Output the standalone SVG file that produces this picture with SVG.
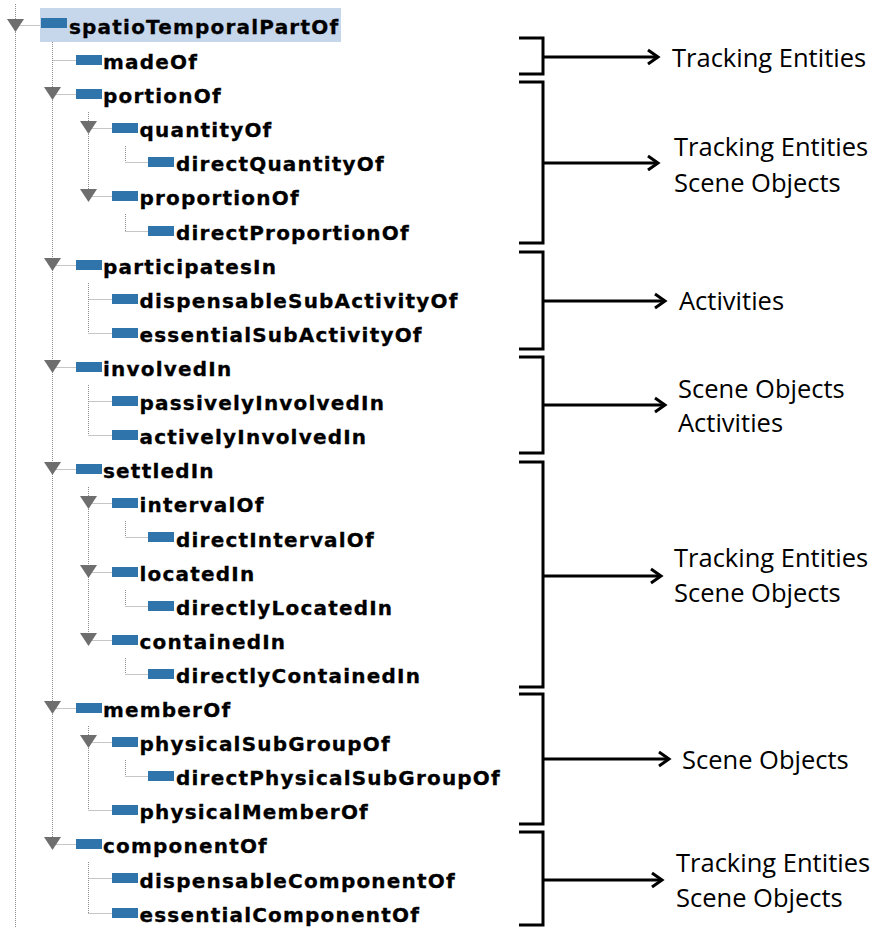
<svg xmlns="http://www.w3.org/2000/svg" width="871" height="927" viewBox="0 0 871 927">
<style>
.t{font-family:"DejaVu Sans","Liberation Sans",sans-serif;font-weight:bold;font-size:20px;letter-spacing:1.2px;fill:#000;stroke:#000;stroke-width:0.3px}
.ic{fill:#2f74ab}
.tri{fill:#6e6e6e}
.dot{stroke:#8c8c8c;stroke-width:1;stroke-dasharray:1 1;fill:none}
.br{fill:none;stroke:#000;stroke-width:3}
.ar{fill:none;stroke:#000;stroke-width:3}
.lb{font-family:"Open Sans","Liberation Sans",sans-serif;font-size:25.5px;fill:#000}
</style>
<defs>
<marker id="ah" markerUnits="userSpaceOnUse" markerWidth="16" markerHeight="20" viewBox="-13 -10 16 20" refX="0" refY="0" orient="auto">
<path d="M-10,-7 L0,0 L-10,7" fill="none" stroke="#000" stroke-width="3"/>
</marker>
</defs>
<g id="connectors">
<line class="dot" x1="15.5" y1="4" x2="15.5" y2="927"/>
<line class="dot" x1="52.5" y1="42" x2="52.5" y2="844"/>
<line class="dot" x1="88.5" y1="112" x2="88.5" y2="196"/>
<line class="dot" x1="125.5" y1="146" x2="125.5" y2="162"/>
<line class="dot" x1="125.5" y1="214" x2="125.5" y2="231"/>
<line class="dot" x1="88.5" y1="283" x2="88.5" y2="333"/>
<line class="dot" x1="88.5" y1="385" x2="88.5" y2="435"/>
<line class="dot" x1="88.5" y1="487" x2="88.5" y2="640"/>
<line class="dot" x1="125.5" y1="521" x2="125.5" y2="537"/>
<line class="dot" x1="125.5" y1="590" x2="125.5" y2="606"/>
<line class="dot" x1="125.5" y1="658" x2="125.5" y2="674"/>
<line class="dot" x1="88.5" y1="726" x2="88.5" y2="810"/>
<line class="dot" x1="125.5" y1="760" x2="125.5" y2="776"/>
<line class="dot" x1="88.5" y1="862" x2="88.5" y2="913"/>
<path class="dot" d="M15.5,25.5H40 M52.5,60.5H76 M52.5,94.5H76 M88.5,128.5H112 M125.5,162.5H148 M88.5,196.5H112 M125.5,231.5H148 M52.5,265.5H76 M88.5,299.5H112 M88.5,333.5H112 M52.5,367.5H76 M88.5,401.5H112 M88.5,435.5H112 M52.5,469.5H76 M88.5,503.5H112 M125.5,537.5H148 M88.5,572.5H112 M125.5,606.5H148 M88.5,640.5H112 M125.5,674.5H148 M52.5,708.5H76 M88.5,742.5H112 M125.5,776.5H148 M88.5,810.5H112 M52.5,844.5H76 M88.5,878.5H112 M88.5,913.5H112"/>
<path class="br" d="M519,38H543V74H519"/>
<path class="br" d="M519,82H543V243H519"/>
<path class="br" d="M519,252H543V349H519"/>
<path class="br" d="M519,357H543V453H519"/>
<path class="br" d="M519,462H543V687H519"/>
<path class="br" d="M519,694H543V824H519"/>
<path class="br" d="M519,832H543V925H519"/>
<line class="ar" x1="543" y1="57" x2="658" y2="57" marker-end="url(#ah)"/>
<line class="ar" x1="543" y1="163" x2="658" y2="163" marker-end="url(#ah)"/>
<line class="ar" x1="543" y1="301" x2="665" y2="301" marker-end="url(#ah)"/>
<line class="ar" x1="543" y1="405" x2="665" y2="405" marker-end="url(#ah)"/>
<line class="ar" x1="543" y1="576" x2="661" y2="576" marker-end="url(#ah)"/>
<line class="ar" x1="543" y1="759" x2="669" y2="759" marker-end="url(#ah)"/>
<line class="ar" x1="543" y1="880" x2="662" y2="880" marker-end="url(#ah)"/>
</g>
<g id="n-spatioTemporalPartOf"><rect x="40" y="8" width="301" height="34" fill="#c6d6eb"/><polygon class="tri" points="7,19 24,19 15.5,32"/><rect class="ic" x="41" y="18" width="26" height="10"/><text class="t" x="69" y="34">spatioTemporalPartOf</text></g>
<g id="n-madeOf"><rect class="ic" x="76" y="55" width="26" height="10"/><text class="t" x="103" y="69">madeOf</text></g>
<g id="n-portionOf"><polygon class="tri" points="44,87 61,87 52.5,100"/><rect class="ic" x="76" y="89" width="26" height="10"/><text class="t" x="103" y="103">portionOf</text></g>
<g id="n-quantityOf"><polygon class="tri" points="80,121 97,121 88.5,134"/><rect class="ic" x="112" y="123" width="26" height="10"/><text class="t" x="139.5" y="137">quantityOf</text></g>
<g id="n-directQuantityOf"><rect class="ic" x="148" y="157" width="26" height="10"/><text class="t" x="176" y="171">directQuantityOf</text></g>
<g id="n-proportionOf"><polygon class="tri" points="80,189 97,189 88.5,202"/><rect class="ic" x="112" y="191" width="26" height="10"/><text class="t" x="139.5" y="205">proportionOf</text></g>
<g id="n-directProportionOf"><rect class="ic" x="148" y="226" width="26" height="10"/><text class="t" x="176" y="240">directProportionOf</text></g>
<g id="n-participatesIn"><polygon class="tri" points="44,258 61,258 52.5,271"/><rect class="ic" x="76" y="260" width="26" height="10"/><text class="t" x="103" y="274">participatesIn</text></g>
<g id="n-dispensableSubActivityOf"><rect class="ic" x="112" y="294" width="26" height="10"/><text class="t" x="139.5" y="308">dispensableSubActivityOf</text></g>
<g id="n-essentialSubActivityOf"><rect class="ic" x="112" y="328" width="26" height="10"/><text class="t" x="139.5" y="342">essentialSubActivityOf</text></g>
<g id="n-involvedIn"><polygon class="tri" points="44,360 61,360 52.5,373"/><rect class="ic" x="76" y="362" width="26" height="10"/><text class="t" x="103" y="376">involvedIn</text></g>
<g id="n-passivelyInvolvedIn"><rect class="ic" x="112" y="396" width="26" height="10"/><text class="t" x="139.5" y="410">passivelyInvolvedIn</text></g>
<g id="n-activelyInvolvedIn"><rect class="ic" x="112" y="430" width="26" height="10"/><text class="t" x="139.5" y="444">activelyInvolvedIn</text></g>
<g id="n-settledIn"><polygon class="tri" points="44,462 61,462 52.5,475"/><rect class="ic" x="76" y="464" width="26" height="10"/><text class="t" x="103" y="478">settledIn</text></g>
<g id="n-intervalOf"><polygon class="tri" points="80,496 97,496 88.5,509"/><rect class="ic" x="112" y="498" width="26" height="10"/><text class="t" x="139.5" y="512">intervalOf</text></g>
<g id="n-directIntervalOf"><rect class="ic" x="148" y="532" width="26" height="10"/><text class="t" x="176" y="546.5">directIntervalOf</text></g>
<g id="n-locatedIn"><polygon class="tri" points="80,565 97,565 88.5,578"/><rect class="ic" x="112" y="567" width="26" height="10"/><text class="t" x="139.5" y="581">locatedIn</text></g>
<g id="n-directlyLocatedIn"><rect class="ic" x="148" y="601" width="26" height="10"/><text class="t" x="176" y="615">directlyLocatedIn</text></g>
<g id="n-containedIn"><polygon class="tri" points="80,633 97,633 88.5,646"/><rect class="ic" x="112" y="635" width="26" height="10"/><text class="t" x="139.5" y="649">containedIn</text></g>
<g id="n-directlyContainedIn"><rect class="ic" x="148" y="669" width="26" height="10"/><text class="t" x="176" y="683">directlyContainedIn</text></g>
<g id="n-memberOf"><polygon class="tri" points="44,701 61,701 52.5,714"/><rect class="ic" x="76" y="703" width="26" height="10"/><text class="t" x="103" y="717">memberOf</text></g>
<g id="n-physicalSubGroupOf"><polygon class="tri" points="80,735 97,735 88.5,748"/><rect class="ic" x="112" y="737" width="26" height="10"/><text class="t" x="139.5" y="751">physicalSubGroupOf</text></g>
<g id="n-directPhysicalSubGroupOf"><rect class="ic" x="148" y="771" width="26" height="10"/><text class="t" x="176" y="785">directPhysicalSubGroupOf</text></g>
<g id="n-physicalMemberOf"><rect class="ic" x="112" y="805" width="26" height="10"/><text class="t" x="139.5" y="819">physicalMemberOf</text></g>
<g id="n-componentOf"><polygon class="tri" points="44,837 61,837 52.5,850"/><rect class="ic" x="76" y="839" width="26" height="10"/><text class="t" x="103" y="853">componentOf</text></g>
<g id="n-dispensableComponentOf"><rect class="ic" x="112" y="873" width="26" height="10"/><text class="t" x="139.5" y="887.5">dispensableComponentOf</text></g>
<g id="n-essentialComponentOf"><rect class="ic" x="112" y="908" width="26" height="10"/><text class="t" x="139.5" y="921.5">essentialComponentOf</text></g>
<g id="label-1"><text class="lb" x="672" y="67">Tracking Entities</text></g>
<g id="label-2"><text class="lb" x="674" y="156">Tracking Entities</text><text class="lb" x="674" y="192">Scene Objects</text></g>
<g id="label-3"><text class="lb" x="679" y="310">Activities</text></g>
<g id="label-4"><text class="lb" x="678" y="398">Scene Objects</text><text class="lb" x="678" y="432">Activities</text></g>
<g id="label-5"><text class="lb" x="674" y="567">Tracking Entities</text><text class="lb" x="674" y="602">Scene Objects</text></g>
<g id="label-6"><text class="lb" x="682" y="769">Scene Objects</text></g>
<g id="label-7"><text class="lb" x="676" y="872">Tracking Entities</text><text class="lb" x="676" y="907">Scene Objects</text></g>
</svg>
